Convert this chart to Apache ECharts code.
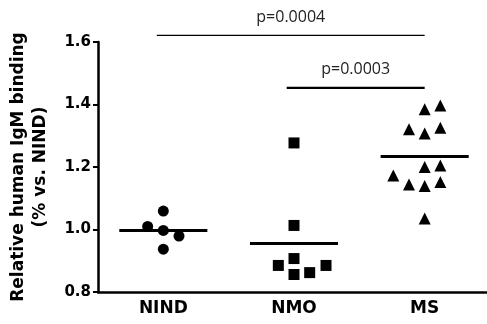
<!DOCTYPE html>
<html>
<head>
<meta charset="utf-8">
<script src="https://cdn.jsdelivr.net/npm/echarts@6/dist/echarts.min.js"></script>
<style>html,body{margin:0;padding:0;background:#fff}#c{width:487px;height:324px}</style>
</head>
<body>
<div id="c"></div>
<script>
const categories = ['NIND', 'NMO', 'MS'];
const yTicks = [0.8, 1.0, 1.2, 1.4, 1.6];
const nindValues = [1.059, 1.010, 0.997, 0.979, 0.937];
const nindJitter = [0, -0.12, 0, 0.12, 0];
const nmoValues = [1.277, 1.013, 0.907, 0.885, 0.856, 0.862, 0.885];
const nmoJitter = [0, 0, 0, -0.12, 0, 0.12, 0.245];
const msValues = [1.385, 1.397, 1.321, 1.307, 1.326, 1.200, 1.205, 1.173, 1.144, 1.139, 1.152, 1.035];
const msJitter = [0, 0.12, -0.12, 0, 0.12, 0, 0.12, -0.24, -0.12, 0, 0.12, 0];
const groupMeans = [0.997, 0.955, 1.234];
const brackets = [
  {from: -0.05, to: 2.0, level: 1.621, label: 'p=0.0004'},
  {from: 0.944, to: 2.0, level: 1.453, label: 'p=0.0003'}
];

const chart = echarts.init(document.getElementById('c'), null, {renderer: 'canvas'});
const groups = [
  {values: nindValues, jitter: nindJitter, symbol: 'circle', size: 11},
  {values: nmoValues, jitter: nmoJitter, symbol: 'rect', size: 11},
  {values: msValues, jitter: msJitter, symbol: 'triangle', size: 12}
];
const series = [];
groups.forEach((g, i) => {
  series.push({
    type: 'scatter', xAxisIndex: 1, symbol: g.symbol, symbolSize: g.size,
    itemStyle: {color: '#000', opacity: 1}, clip: false, silent: true,
    data: g.values.map((v, k) => [i + g.jitter[k], v])
  });
});
groupMeans.forEach((m, i) => {
  series.push({
    type: 'line', xAxisIndex: 1, symbol: 'none', clip: false, silent: true,
    lineStyle: {color: '#000', width: 3},
    data: [[i - 0.337, m], [i + 0.337, m]]
  });
});
brackets.forEach((b, i) => {
  series.push({
    type: 'line', xAxisIndex: 1, symbol: 'none', clip: false, silent: true,
    lineStyle: {color: '#000', width: i === 0 ? 1.3 : 2.2},
    data: [[b.from, b.level], [b.to, b.level]]
  });
  series.push({
    type: 'scatter', xAxisIndex: 1, symbolSize: 1, clip: false, silent: true,
    itemStyle: {color: 'rgba(0,0,0,0)', opacity: 1},
    label: {show: true, position: 'top', distance: 10, formatter: b.label,
      fontFamily: 'Open Sans', fontSize: 16, color: '#222'},
    data: [[(b.from + b.to) / 2, b.level]]
  });
});

chart.setOption({
  animation: false,
  grid: {left: 98, top: 42, width: 392, height: 250, containLabel: false, outerBoundsMode: 'none'},
  xAxis: [
    {type: 'category', data: categories, boundaryGap: true,
     axisLine: {lineStyle: {color: '#000', width: 2.5}},
     axisTick: {alignWithLabel: true, length: 5, lineStyle: {color: '#000', width: 2}},
     axisLabel: {color: '#000', fontFamily: 'DejaVu Sans', fontWeight: 'bold', fontSize: 17, margin: 8},
     splitLine: {show: false}},
    {type: 'value', min: -0.5, max: 2.5, show: false, splitLine: {show: false}}
  ],
  yAxis: {
    type: 'value', min: yTicks[0], max: yTicks[yTicks.length - 1], interval: 0.2,
    axisLine: {show: true, onZero: false, lineStyle: {color: '#000', width: 2.5}},
    axisTick: {show: true, length: 5, lineStyle: {color: '#000', width: 2}},
    splitLine: {show: false},
    axisLabel: {color: '#000', fontFamily: 'DejaVu Sans', fontWeight: 'bold', fontSize: 15, margin: 7,
      formatter: v => v.toFixed(1)},
    name: 'Relative human IgM binding\n(% vs. NIND)',
    nameLocation: 'middle', nameRotate: 90, nameGap: 46,
    nameTextStyle: {color: '#000', fontFamily: 'DejaVu Sans', fontWeight: 'bold', fontSize: 17, lineHeight: 22, align: 'center'}
  },
  series: series
});
</script>
</body>
</html>
